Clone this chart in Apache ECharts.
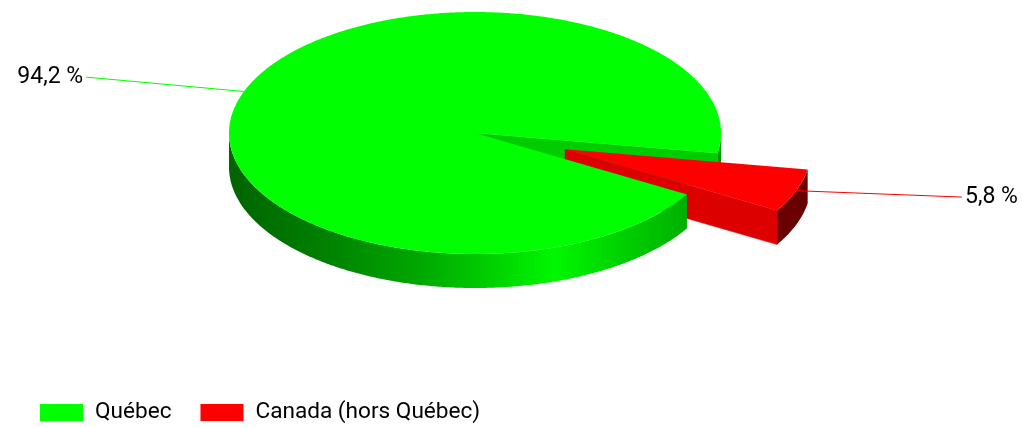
<!DOCTYPE html>
<html><head><meta charset="utf-8">
<script src="https://cdn.jsdelivr.net/npm/echarts@6/dist/echarts.min.js"></script>
<style>html,body{margin:0;padding:0;background:#fff}#c{width:1022px;height:428px}</style>
</head><body><div id="c"></div>
<script>
// ---- data ----
const categories = ['Québec', 'Canada (hors Québec)'];
const values = [94.2, 5.8];
const colors = ['#00ff00', '#ff0000'];

// ---- layout / style (not data) ----
const CX = 475, CY = 133, RX = 246, RY = 121, DEPTH = 34;
const START_DEG = 30.5;          // first slice starts here, clockwise on screen
const EXPLODE = [0, 0.39];       // fraction of radius
const FACE_COLORS = ['#00cc00', '#dd0000'];
const SIDE_FILLS = [
  {type:'linear', x:CX-RX, y:0, x2:CX+RX, y2:0, global:true, colorStops:[
    {offset:0, color:'#006400'},{offset:0.19, color:'#008000'},{offset:0.39, color:'#00a800'},
    {offset:0.52, color:'#00cc00'},{offset:0.66, color:'#00f800'},{offset:0.80, color:'#00d000'},
    {offset:0.93, color:'#00b000'},{offset:1, color:'#009800'}]},
  {type:'linear', x:CX, y:0, x2:CX+RX*1.4, y2:0, global:true, colorStops:[
    {offset:0, color:'#800000'},{offset:1, color:'#680000'}]}
];
const FONT = 'Roboto, "Liberation Sans", Arial, sans-serif';

const total = values.reduce((a, b) => a + b, 0);
const slices = [];
let acc = START_DEG;
values.forEach(v => { const sw = v / total * 360; slices.push({start: acc, end: acc + sw}); acc += sw; });

const rad = d => d * Math.PI / 180;
function pt(c, deg, dy) { return [c.x + RX * Math.cos(rad(deg)), c.y + RY * Math.sin(rad(deg)) + (dy || 0)]; }
function arc(c, a0, a1, dy) {
  const n = Math.max(2, Math.ceil(Math.abs(a1 - a0) / 0.5));
  const out = [];
  for (let k = 0; k <= n; k++) out.push(pt(c, a0 + (a1 - a0) * k / n, dy));
  return out;
}
function visibleSegments(a0, a1) {
  const segs = [];
  for (let base = -720; base <= 720; base += 360) {
    const s = Math.max(a0, base), e = Math.min(a1, base + 180);
    if (e > s) segs.push([s, e]);
  }
  return segs;
}
function fmt(v) { return (v / total * 100).toFixed(1).replace('.', ',') + ' %'; }

function makeRender(i) {
  return function (params, api) {
    const s = slices[i];
    const a0 = s.start, a1 = s.end, mid = (a0 + a1) / 2;
    const e = EXPLODE[i];
    const c = {x: CX + e * RX * Math.cos(rad(mid)), y: CY + e * RY * Math.sin(rad(mid))};
    const ch = [];
    // radial faces
    [[a0, Math.cos(rad(a0)) < 0], [a1, Math.cos(rad(a1)) > 0]].forEach(([a, vis]) => {
      if (!vis) return;
      const p = pt(c, a, 0), q = pt(c, a, DEPTH);
      ch.push({type:'polygon', z2: 10 + i, shape:{points:[[c.x, c.y], p, q, [c.x, c.y + DEPTH]]},
        style:{fill: FACE_COLORS[i], stroke: FACE_COLORS[i], lineWidth: 0.5}});
    });
    // outer cylindrical side
    visibleSegments(a0, a1).forEach(([b0, b1]) => {
      const pts = arc(c, b0, b1, 0).concat(arc(c, b1, b0, DEPTH));
      ch.push({type:'polygon', z2: 20 + i, shape:{points: pts}, style:{fill: SIDE_FILLS[i]}});
    });
    // top face
    const top = [[c.x, c.y]].concat(arc(c, a0, a1, 0));
    ch.push({type:'polygon', z2: 30 + i, shape:{points: top}, style:{fill: colors[i]}});
    // label + line
    const cm = Math.cos(rad(mid)), sm = Math.sin(rad(mid));
    const anchor = pt(c, mid, 0);
    const end = [c.x + 1.7 * RX * cm + 4, c.y + 1.25 * RY * sm - 4];
    ch.push({type:'polyline', z2: 40, shape:{points:[anchor, end]}, style:{stroke: colors[i], lineWidth: 1, fill: null}});
    const right = cm < 0;
    ch.push({type:'text', z2: 41, style:{text: fmt(api.value(0)), x: end[0] + (right ? -3 : 3), y: end[1],
      fill:'#000', font: '23px ' + FONT, fontSize: 23, fontFamily: FONT,
      textAlign: right ? 'right' : 'left', align: right ? 'right' : 'left',
      textVerticalAlign: 'middle', verticalAlign: 'middle'}});
    return {type:'group', children: ch};
  };
}

const chart = echarts.init(document.getElementById('c'), null, {renderer: 'canvas'});
chart.setOption({
  animation: false,
  backgroundColor: '#ffffff',
  legend: {
    left: 40, top: 401, padding: 0, itemWidth: 43, itemHeight: 17, itemGap: 29, icon: 'rect', selectedMode: false,
    textStyle: {fontFamily: FONT, fontSize: 22.6, color: '#000', padding: [0, 0, 0, 7]},
    data: categories
  },
  series: categories.map((name, i) => ({
    type: 'custom', name: name, coordinateSystem: 'none', silent: true,
    itemStyle: {color: colors[i]},
    data: [[values[i]]],
    renderItem: makeRender(i)
  }))
});
</script></body></html>
